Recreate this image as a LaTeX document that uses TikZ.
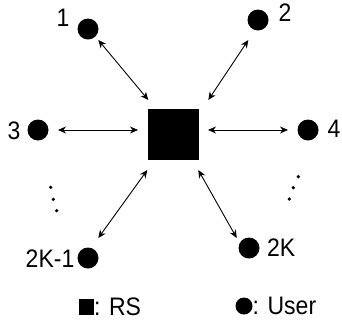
\documentclass[tikz,border=0pt]{standalone}
\usepackage{fontspec}
\setmainfont{Liberation Sans}
\usetikzlibrary{arrows.meta}
\begin{document}
\begin{tikzpicture}[x=1pt,y=-1pt,
  user/.style={circle,fill=black,inner sep=0pt,minimum size=21pt},
  relay/.style={rectangle,fill=black,inner sep=0pt,minimum size=51pt},
  lbl/.style={inner sep=0pt,font=\fontsize{23}{27}\selectfont,yscale=1.1},
  link/.style={{Stealth[length=8pt,width=7pt]}-{Stealth[length=8pt,width=7pt]},line width=0.9pt},
  vdot/.style={circle,fill=black,inner sep=0pt,minimum size=3.6pt}]
\useasboundingbox (0,0) rectangle (342,327);
\node[relay] (rs) at (173.5,134.5) {};
\node[user] (u1) at (88,29) {};
\node[user] (u2) at (258,20) {};
\node[user] (u3) at (38,130) {};
\node[user] (u4) at (308,130) {};
\node[user] (u5) at (88,258) {};
\node[user] (u6) at (249,248) {};
\node[lbl] (l1) at (63,18) {1};
\node[lbl] (l2) at (285,13) {2};
\node[lbl] (l3) at (14,131) {3};
\node[lbl] (l4) at (334,129) {4};
\node[lbl,anchor=east] (l5) at (74.5,259) {2K-1};
\node[lbl,anchor=west] (l6) at (267,248) {2K};
% arrow end points
\coordinate (a1s) at (98.3,40);  \coordinate (a1e) at (148.3,100);
\coordinate (a2s) at (248.3,40); \coordinate (a2e) at (208.3,100);
\coordinate (a3s) at (58,130);   \coordinate (a3e) at (138,130);
\coordinate (a4s) at (208,130);  \coordinate (a4e) at (288,130);
\coordinate (a5s) at (147.3,170); \coordinate (a5e) at (98.3,238);
\coordinate (a6s) at (198.3,170); \coordinate (a6e) at (236.7,238);
\draw[link] (a1s) -- (a1e);
\draw[link] (a2s) -- (a2e);
\draw[link] (a3s) -- (a3e);
\draw[link] (a4s) -- (a4e);
\draw[link] (a5s) -- (a5e);
\draw[link] (a6s) -- (a6e);
% vertical ellipsis dots
\node[vdot] (d1) at (50.7,187.3) {};
\node[vdot] (d2) at (53.3,199.3) {};
\node[vdot] (d3) at (56.7,210.7) {};
\node[vdot] (d4) at (298.3,176.7) {};
\node[vdot] (d5) at (293.3,187.7) {};
\node[vdot] (d6) at (289.3,199) {};
% legend
\node[rectangle,fill=black,inner sep=0pt,minimum width=15pt,minimum height=16pt] (lgrs) at (86,307) {};
\node[lbl,anchor=west] (lgrst) at (94,307) {: RS};
\node[circle,fill=black,inner sep=0pt,minimum size=17pt] (lgu) at (244,306) {};
\node[lbl,anchor=west] (lgut) at (252.5,306) {: User};
\end{tikzpicture}
\end{document}
